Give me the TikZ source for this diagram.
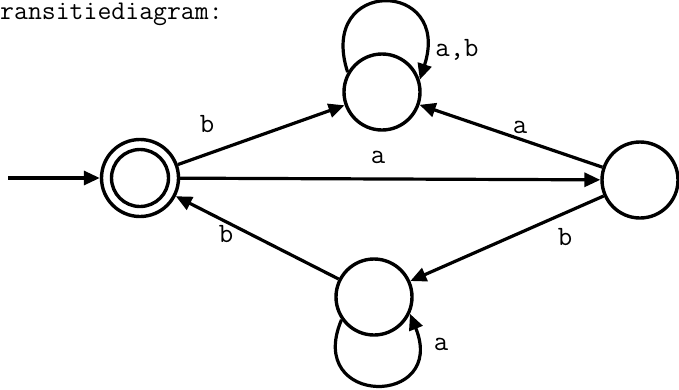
\documentclass[tikz,border=0pt]{standalone}
\usepackage{fontspec}
\usetikzlibrary{arrows.meta}

\begin{document}
\begin{tikzpicture}[x=1pt,y=-1pt,>={Triangle[length=16pt,width=14pt]},
  state/.style={draw,circle,line width=3.4pt,minimum size=76pt,inner sep=0pt},
  edge/.style={->,line width=3.2pt},
  lbl/.style={font=\fontsize{28}{30}\selectfont\ttfamily,inner sep=0pt}]
\useasboundingbox (0,0) rectangle (679,389);
\node[anchor=base west,inner sep=0pt,font=\fontsize{27}{30}\selectfont\ttfamily] (title) at (0,19.5) {ransitiediagram:};
% states
\node[state,minimum size=77pt] (s0) at (140,178) {};
\node[state,minimum size=57pt] (s0in) at (s0) {};
\node[state] (s1) at (382,92) {};
\node[state] (s2) at (640,180) {};
\node[state] (s3) at (374,297) {};
\coordinate (start) at (8,178);
% transitions
\draw[edge] (start) -- (s0);
\draw[edge] (s0) -- (s1);
\draw[edge] (s0) -- (s2);
\draw[edge] (s2) -- (s1);
\draw[edge] (s2) -- (s3);
\draw[edge] (s3) -- (s0);
\draw[edge] (s1.150) .. controls +(108:100pt) and +(72:106pt) .. (s1.18);
\draw[edge] (s3.215) .. controls +(247:95pt) and +(292:101pt) .. (s3.335);
% labels
\node[lbl] (l01) at (207,124) {b};
\node[lbl] (l02) at (378,157) {a};
\node[lbl] (l21) at (520,127) {a};
\node[lbl] (l30) at (226,234) {b};
\node[lbl] (l23) at (565,237) {b};
\node[lbl] (l11) at (457,50) {a,b};
\node[lbl] (l33) at (441,344) {a};
\end{tikzpicture}
\end{document}
